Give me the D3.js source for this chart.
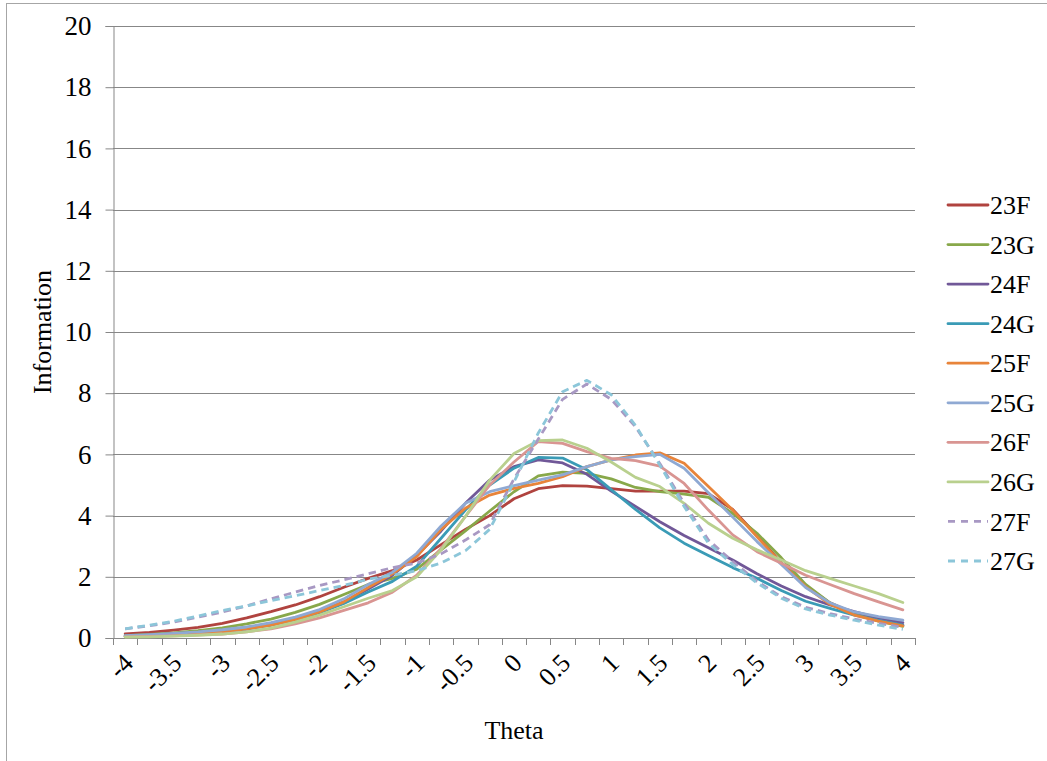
<!DOCTYPE html>
<html>
<head>
<meta charset="utf-8">
<script src="https://cdn.jsdelivr.net/npm/d3@7"></script>
<style>
  body { margin: 0; background: #fff; }
  svg text { font-family: "Liberation Serif", "Times New Roman", serif; fill: #000; }
</style>
</head>
<body>
<div id="chart"></div>
<script>
// theta categories, -4 .. 4 step 0.25
const thetas = [-4, -3.75, -3.5, -3.25, -3, -2.75, -2.5, -2.25, -2, -1.75, -1.5, -1.25, -1, -0.75, -0.5, -0.25,
  0, 0.25, 0.5, 0.75, 1, 1.25, 1.5, 1.75, 2, 2.25, 2.5, 2.75, 3, 3.25, 3.5, 3.75, 4]
const yTicks = [0, 2, 4, 6, 8, 10, 12, 14, 16, 18, 20]

const seriesNames = ['23F', '23G', '24F', '24G', '25F', '25G', '26F', '26G', '27F', '27G']
const seriesColors = ['#B0433F', '#88A84A', '#715898', '#3A9BB6', '#E8843A', '#8FA9D3', '#D99592', '#B9D08E', '#A898C3', '#8CC6D9']
const seriesDashed = [false, false, false, false, false, false, false, false, true, true]

const info23F = [0.13, 0.18, 0.26, 0.35, 0.48, 0.66, 0.86, 1.08, 1.35, 1.66, 1.95, 2.2, 2.55, 3.05, 3.55, 4.0,
  4.55, 4.88, 4.98, 4.96, 4.88, 4.8, 4.8, 4.8, 4.72, 4.2, 3.35, 2.45, 1.7, 1.15, 0.8, 0.58, 0.42]
const info23G = [0.08, 0.12, 0.17, 0.24, 0.33, 0.46, 0.62, 0.84, 1.1, 1.42, 1.75, 1.95, 2.25, 2.88, 3.5, 4.15,
  4.78, 5.3, 5.42, 5.38, 5.2, 4.92, 4.78, 4.7, 4.6, 4.07, 3.42, 2.62, 1.75, 1.15, 0.78, 0.55, 0.38]
const info24F = [0.06, 0.09, 0.13, 0.18, 0.25, 0.34, 0.46, 0.63, 0.87, 1.18, 1.6, 2.05, 2.7, 3.5, 4.4, 5.16,
  5.6, 5.82, 5.72, 5.35, 4.8, 4.3, 3.8, 3.35, 2.95, 2.55, 2.1, 1.7, 1.35, 1.08, 0.86, 0.66, 0.5]
const info24G = [0.05, 0.07, 0.1, 0.14, 0.2, 0.29, 0.42, 0.6, 0.83, 1.13, 1.5, 1.85, 2.35, 3.26, 4.18, 5.0,
  5.55, 5.9, 5.88, 5.5, 4.85, 4.2, 3.6, 3.1, 2.7, 2.3, 1.95, 1.55, 1.2, 0.97, 0.75, 0.58, 0.42]
const info25F = [0.05, 0.07, 0.1, 0.14, 0.2, 0.3, 0.42, 0.6, 0.85, 1.18, 1.65, 2.1, 2.66, 3.55, 4.24, 4.67,
  4.89, 5.05, 5.27, 5.6, 5.82, 5.98, 6.05, 5.71, 4.95, 4.18, 3.31, 2.44, 1.68, 1.1, 0.75, 0.55, 0.4]
const info25G = [0.08, 0.11, 0.15, 0.2, 0.27, 0.36, 0.5, 0.68, 0.93, 1.28, 1.75, 2.15, 2.77, 3.66, 4.4, 4.78,
  4.98, 5.16, 5.33, 5.6, 5.82, 5.93, 6.0, 5.55, 4.75, 3.95, 3.15, 2.4, 1.65, 1.15, 0.85, 0.7, 0.58]
const info26F = [0.04, 0.05, 0.07, 0.1, 0.13, 0.2, 0.3, 0.46, 0.66, 0.9, 1.15, 1.5, 2.05, 2.93, 3.97, 5.0,
  5.75, 6.42, 6.36, 6.09, 5.87, 5.8, 5.62, 5.05, 4.18, 3.37, 2.82, 2.44, 2.05, 1.75, 1.45, 1.18, 0.92]
const info26G = [0.03, 0.04, 0.06, 0.09, 0.13, 0.2, 0.32, 0.52, 0.75, 1.02, 1.3, 1.55, 2.0, 2.88, 3.97, 5.16,
  6.03, 6.45, 6.47, 6.2, 5.75, 5.25, 4.95, 4.4, 3.75, 3.26, 2.88, 2.55, 2.2, 1.95, 1.7, 1.45, 1.16]
const info27F = [0.3, 0.4, 0.52, 0.68, 0.85, 1.05, 1.28, 1.5, 1.72, 1.9, 2.1, 2.3, 2.45, 2.75, 3.2, 3.7,
  5.2, 6.5, 7.8, 8.3, 7.8, 6.9, 5.7, 4.4, 3.2, 2.5, 1.85, 1.35, 1.0, 0.8, 0.62, 0.48, 0.35]
const info27G = [0.3, 0.42, 0.55, 0.72, 0.9, 1.05, 1.22, 1.38, 1.55, 1.72, 1.92, 2.05, 2.2, 2.45, 2.85, 3.55,
  5.1, 6.7, 8.05, 8.42, 7.95, 6.95, 5.65, 4.3, 3.1, 2.4, 1.8, 1.3, 0.95, 0.75, 0.58, 0.42, 0.28]

const seriesValues = [info23F, info23G, info24F, info24G, info25F, info25G, info26F, info26G, info27F, info27G]

const width = 1047, height = 761
const plot = { left: 113, right: 915, top: 26, bottom: 638 }
const gridColor = '#878787'
const fontSize = 26

const svg = d3.select('#chart')
    .append('svg')
    .attr('width', width)
    .attr('height', height)

// chart border
svg.append('rect')
    .attr('x', 6.5).attr('y', 3.5)
    .attr('width', width + 10).attr('height', height + 10)
    .attr('fill', 'none')
    .attr('stroke', '#A6A6A6')

const xBand = d3.scaleBand().domain(d3.range(thetas.length)).range([plot.left, plot.right])
const x = i => xBand(i) + xBand.bandwidth() / 2
const y = d3.scaleLinear().domain([0, 20]).range([plot.bottom, plot.top])

// horizontal gridlines
svg.append('g')
    .selectAll('line')
    .data(yTicks.filter(d => d > 0))
    .enter().append('line')
    .attr('x1', plot.left).attr('x2', plot.right)
    .attr('y1', d => Math.round(y(d)) + 0.5).attr('y2', d => Math.round(y(d)) + 0.5)
    .attr('stroke', gridColor)

// y axis
const yAxis = d3.axisLeft(y).tickValues(yTicks).tickSize(8).tickPadding(14).tickFormat(d3.format('d'))
const yG = svg.append('g')
    .attr('transform', 'translate(' + (plot.left + 0.5) + ',0)')
    .call(yAxis)
yG.selectAll('.domain').attr('stroke', gridColor)
yG.selectAll('.tick line').attr('stroke', gridColor)
yG.selectAll('.tick text')
    .attr('font-size', 27)
    .attr('font-family', '"Liberation Serif", serif')

// x axis line and tick marks at category boundaries
const xG = svg.append('g')
svg.append('line')
    .attr('x1', plot.left).attr('x2', plot.right)
    .attr('y1', plot.bottom + 0.5).attr('y2', plot.bottom + 0.5)
    .attr('stroke', gridColor)
xG.selectAll('line')
    .data(d3.range(thetas.length + 1))
    .enter().append('line')
    .attr('x1', i => Math.round(plot.left + i * xBand.step()) + 0.5)
    .attr('x2', i => Math.round(plot.left + i * xBand.step()) + 0.5)
    .attr('y1', plot.bottom).attr('y2', plot.bottom + 7)
    .attr('stroke', gridColor)

// x tick labels, every second category, rotated
xG.selectAll('text')
    .data(d3.range(0, thetas.length, 2))
    .enter().append('text')
    .attr('transform', i => 'translate(' + (x(i) + 3) + ',' + (plot.bottom + 20) + ') rotate(-45)')
    .attr('text-anchor', 'end')
    .attr('dy', '0.35em')
    .attr('font-size', fontSize)
    .text(i => String(thetas[i]))

// axis titles
svg.append('text')
    .attr('x', (plot.left + plot.right) / 2).attr('y', 739)
    .attr('text-anchor', 'middle')
    .attr('font-size', fontSize)
    .text('Theta')
svg.append('text')
    .attr('transform', 'translate(51,' + (plot.top + plot.bottom) / 2 + ') rotate(-90)')
    .attr('text-anchor', 'middle')
    .attr('font-size', fontSize)
    .text('Information')

// series lines
const line = d3.line()
    .x((d, i) => x(i))
    .y(d => y(d))

seriesValues.forEach((values, s) => {
  svg.append('path')
      .datum(values)
      .attr('d', line)
      .attr('fill', 'none')
      .attr('stroke', seriesColors[s])
      .attr('stroke-width', 2.8)
      .attr('stroke-linejoin', 'round')
      .attr('stroke-linecap', seriesDashed[s] ? 'butt' : 'round')
      .attr('stroke-dasharray', seriesDashed[s] ? '7.5,5' : null)
})

// legend
const legend = svg.append('g')
const legendY = d3.scalePoint().domain(seriesNames).range([205, 561])
seriesNames.forEach((name, s) => {
  const ly = legendY(name)
  legend.append('line')
      .attr('x1', 948).attr('x2', 988)
      .attr('y1', ly).attr('y2', ly)
      .attr('stroke', seriesColors[s])
      .attr('stroke-width', 2.8)
      .attr('stroke-linecap', seriesDashed[s] ? 'butt' : 'round')
      .attr('stroke-dasharray', seriesDashed[s] ? '7,6' : null)
  legend.append('text')
      .attr('x', 990).attr('y', ly)
      .attr('dy', '0.35em')
      .attr('font-size', fontSize)
      .text(name)
})
</script>
</body>
</html>
